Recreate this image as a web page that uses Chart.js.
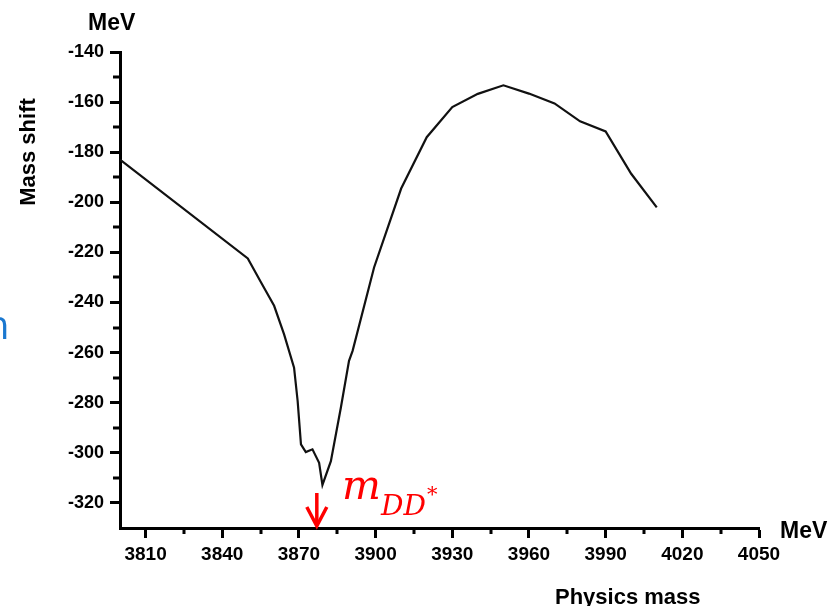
<!DOCTYPE html>
<html>
<head>
<meta charset="utf-8">
<script src="https://cdn.jsdelivr.net/npm/chart.js@4/dist/chart.umd.min.js"></script>
<style>
  html, body { margin: 0; padding: 0; background: #fff; }
  #wrap { position: relative; width: 837px; height: 606px; overflow: hidden; background: #fff; }
  #c { position: absolute; left: 0; top: 0; }
  .t { position: absolute; font-family: "Liberation Sans", Arial, sans-serif; font-weight: bold; color: #000; line-height: 1; white-space: nowrap; }
  .m { position: absolute; font-family: "DejaVu Serif", serif; font-style: italic; color: #ff0000; line-height: 1; white-space: nowrap; }
</style>
</head>
<body>
<div id="wrap">
  <canvas id="c" width="837" height="606"></canvas>
  <div class="t" style="left:88px; top:11px; font-size:23px;">MeV</div>
  <div class="t" style="left:17px; top:152px; font-size:22px; transform-origin:0 0; transform: rotate(-90deg) translate(-50%, 0);">Mass shift</div>
  <div class="t" style="left:780px; top:519px; font-size:23px;">MeV</div>
  <div class="t" style="left:555px; top:586px; font-size:22px;">Physics mass</div>
  <div class="m" style="left:342px; top:465px; font-size:41px;">m</div>
  <div class="m" style="left:381px; top:492px; font-size:28px;">DD</div>
  <div class="m" style="left:427px; top:484px; font-size:21px; font-style:normal;">*</div>
  <div style="position:absolute; left:-15px; top:304px; font-family:'Open Sans',sans-serif; font-size:40px; color:#1a78d0; line-height:1;">n</div>
</div>
<script>
// ---- data ----
const massValues  = [3800, 3850, 3855.2, 3860.3, 3864.2, 3868.1, 3869.5, 3870.8, 3872.7, 3875.3, 3877.9, 3879.2, 3882.5, 3886.4, 3889.6, 3891, 3899.4, 3910, 3920, 3930, 3940, 3950, 3960, 3970, 3980, 3990, 4000, 4010];
const shiftValues = [-183, -222.4, -232, -241.3, -252.7, -266, -279.3, -296.6, -299.7, -298.6, -304, -312.8, -303.3, -282, -263.3, -259.3, -226, -194.5, -174, -162, -156.7, -153.3, -156.6, -160.5, -167.7, -171.7, -188.6, -202];
const xTicks  = [3810, 3840, 3870, 3900, 3930, 3960, 3990, 4020, 4050];
const xMinor  = [3825, 3855, 3885, 3915, 3945, 3975, 4005, 4035];
const yTicks  = [-140, -160, -180, -200, -220, -240, -260, -280, -300, -320];
const yMinor  = [-150, -170, -190, -210, -230, -250, -270, -290, -310, -330];
const thresholdMass = 3877;

const xFont = { family: "'Liberation Sans', Arial, sans-serif", weight: 'bold', size: 19 };
const yFont = { family: "'Liberation Sans', Arial, sans-serif", weight: 'bold', size: 18 };

const extras = {
  id: 'extras',
  afterDraw(chart) {
    const ctx = chart.ctx;
    const xs = chart.scales.x, ys = chart.scales.y;
    const area = chart.chartArea;
    ctx.save();
    ctx.strokeStyle = '#000';
    ctx.lineWidth = 3;
    ctx.beginPath();
    xMinor.forEach(v => {
      const px = Math.round(xs.getPixelForValue(v));
      ctx.moveTo(px, area.bottom);
      ctx.lineTo(px, area.bottom + 6);
    });
    yMinor.forEach(v => {
      const py = Math.round(ys.getPixelForValue(v));
      if (py > area.bottom - 1) return;
      ctx.moveTo(area.left - 7, py);
      ctx.lineTo(area.left, py);
    });
    ctx.stroke();
    // red arrow marking threshold
    const ax = xs.getPixelForValue(thresholdMass);
    ctx.strokeStyle = '#ff0000';
    ctx.lineWidth = 3.5;
    ctx.lineCap = 'butt';
    ctx.beginPath();
    ctx.moveTo(ax, area.bottom - 35);
    ctx.lineTo(ax, area.bottom - 3);
    ctx.stroke();
    ctx.beginPath();
    ctx.moveTo(ax - 10, area.bottom - 21);
    ctx.lineTo(ax, area.bottom - 2);
    ctx.lineTo(ax + 10, area.bottom - 21);
    ctx.stroke();
    ctx.restore();
  }
};

new Chart(document.getElementById('c'), {
  type: 'scatter',
  data: {
    datasets: [{
      data: massValues.map((m, i) => ({ x: m, y: shiftValues[i] })),
      showLine: true,
      borderColor: '#111',
      borderWidth: 2.2,
      pointRadius: 0,
      tension: 0,
      fill: false
    }]
  },
  options: {
    responsive: false,
    animation: false,
    events: [],
    layout: { padding: { left: 0, top: 52, right: 78, bottom: 0 } },
    plugins: { legend: { display: false }, tooltip: { enabled: false } },
    scales: {
      x: {
        type: 'linear', position: 'bottom', min: 3800, max: 4050,
        afterBuildTicks: s => { s.ticks = xTicks.map(v => ({ value: v })); },
        afterFit: s => { s.height = 78; },
        grid: { drawOnChartArea: false, drawTicks: true, tickLength: 10, tickWidth: 3, tickColor: '#000' },
        border: { display: true, width: 3, color: '#000' },
        ticks: { font: xFont, color: '#000', padding: 5, maxRotation: 0, autoSkip: false, callback: v => String(v) }
      },
      y: {
        type: 'linear', position: 'left', min: -330, max: -140,
        afterBuildTicks: s => { s.ticks = yTicks.map(v => ({ value: v })); },
        afterFit: s => { s.width = 120; },
        grid: { drawOnChartArea: false, drawTicks: true, tickLength: 10, tickWidth: 3, tickColor: '#000' },
        border: { display: true, width: 3, color: '#000' },
        ticks: { font: yFont, color: '#000', padding: 6, autoSkip: false, callback: v => String(v) }
      }
    }
  },
  plugins: [extras]
});
</script>
</body>
</html>
